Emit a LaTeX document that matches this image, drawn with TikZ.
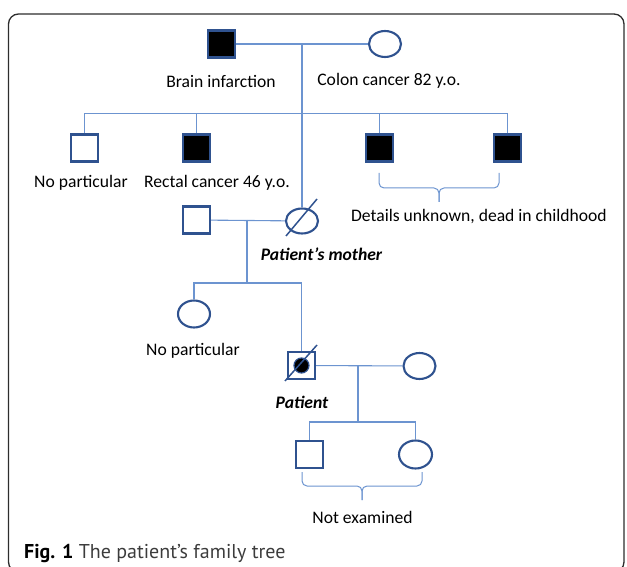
\documentclass[tikz,border=0pt]{standalone}
\usepackage{fontspec}
\setmainfont{Carlito}
\newfontfamily\capfont{PT Sans}
\usetikzlibrary{shapes.geometric}

\definecolor{linkblue}{RGB}{108,148,208}
\definecolor{shapeblue}{RGB}{47,82,143}
\definecolor{framegray}{RGB}{45,45,45}
\definecolor{capgray}{RGB}{60,60,60}

\begin{document}
\begin{tikzpicture}[x=1pt,y=-1pt,
    every node/.style={font=\fontsize{17.6}{20}\selectfont},
    male node/.style={rectangle,draw=shapeblue,line width=2.3pt,inner sep=0pt,
                      minimum width=27pt,minimum height=27pt,fill=white},
    female node/.style={ellipse,draw=shapeblue,line width=2.1pt,inner sep=0pt,
                        minimum width=32pt,minimum height=26pt,fill=white},
    affected/.style={fill=black},
    kin line/.style={draw=linkblue,line width=1.1pt},
    slash line/.style={draw=shapeblue,line width=1.5pt},
    brace line/.style={draw=linkblue,line width=1pt,rounded corners=5pt},
    note/.style={inner sep=1pt},
    name note/.style={inner sep=1pt,font=\fontsize{17.6}{20}\selectfont\bfseries\itshape}]

  \useasboundingbox (0,0) rectangle (627,567);
  \clip (0,0) rectangle (627,567);
  \draw[framegray,line width=1.3pt,rounded corners=10pt] (8.5,14) rectangle (624,572);

  % grandparents
  \node[male node,affected] (gf) at (221.5,44) {};
  \node[female node] (gm) at (385,44) {};
  \node[note] (gf label) at (221,81) {Brain infarction};
  \node[note] (gm label) at (389,81) {Colon cancer 82 y.o.};

  % their children
  \node[male node] (c1) at (84.5,148) {};
  \node[male node,affected] (c2) at (196.5,148) {};
  \node[male node,affected] (c3) at (379.5,148) {};
  \node[male node,affected] (c4) at (507.5,148) {};
  \node[note] (c1 label) at (81,183) {No particular};
  \node[note] (c2 label) at (217,183) {Rectal cancer 46 y.o.};
  \node[note] (c34 label) at (479,217) {Details unknown, dead in childhood};

  % parents of the patient
  \node[male node] (father) at (196.5,220) {};
  \node[female node,minimum height=25pt] (mother) at (302,221) {};
  \node[name note] (mother label) at (321.5,254) {Patient’s mother};

  % the patient and the sister
  \node[female node,minimum height=27pt] (aunt) at (194,314) {};
  \node[note] (aunt label) at (193,351) {No particular};
  \node[male node] (patient) at (301.5,365.5) {};
  \node[circle,draw=shapeblue,line width=1.2pt,fill=black,minimum size=15pt,inner sep=0pt]
      (patient dot) at (patient.center) {};
  \node[name note] (patient label) at (302,402) {Patient};
  \node[female node] (spouse) at (419.5,366) {};

  % children of the patient
  \node[male node] (son) at (309.5,454.5) {};
  \node[female node,minimum width=33pt,minimum height=28pt] (daughter) at (415.5,454.5) {};
  \node[note] (kids label) at (362.5,517) {Not examined};

  \coordinate (gp mid) at (302,44);
  \coordinate (bar1) at (302,113.5);
  \coordinate (par mid) at (247,220);
  \coordinate (bar2) at (247,283);
  \coordinate (pat mid) at (358,365.5);
  \coordinate (bar3) at (358,422);

  \path[kin line]
    (gf) edge (gm)
    (gp mid) edge (mother.north)
    (c1.north) edge[to path={|- (\tikztotarget)}] (bar1)
    (c2.north) edge[to path={|- (\tikztotarget)}] (bar1)
    (c4.north) edge[to path={|- (\tikztotarget)}] (bar1)
    (c3.north) edge[to path={|- (\tikztotarget)}] (bar1)
    (father) edge (mother)
    (par mid) edge (bar2)
    (aunt.north) edge[to path={|- (\tikztotarget)}] (bar2)
    (patient.north) edge[to path={|- (\tikztotarget)}] (bar2)
    (patient) edge (spouse)
    (pat mid) edge (bar3)
    (son.north) edge[to path={|- (\tikztotarget)}] (bar3)
    (daughter.north) edge[to path={|- (\tikztotarget)}] (bar3);

  % deceased
  \draw[slash line] ([shift={(-16,15)}]mother.center) -- ([shift={(15,-22)}]mother.center);
  \draw[slash line] ([shift={(-16.5,15.5)}]patient.center) -- ([shift={(15.5,-20.5)}]patient.center);

  % braces
  \draw[brace line] (379,173) -- (379,188) -- (439,188) -- (439,202);
  \draw[brace line] (499,173) -- (499,188) -- (439,188) -- (439,202);
  \draw[brace line] (302,472) -- (302,486) -- (362,486) -- (362,500);
  \draw[brace line] (422,472) -- (422,486) -- (362,486) -- (362,500);

  \node[anchor=west,inner sep=0pt,font=\capfont\fontsize{20}{24}\selectfont] (caption)
      at (24,553) {\textbf{Fig. 1} {\color{capgray}The patient’s family tree}};

\end{tikzpicture}
\end{document}
